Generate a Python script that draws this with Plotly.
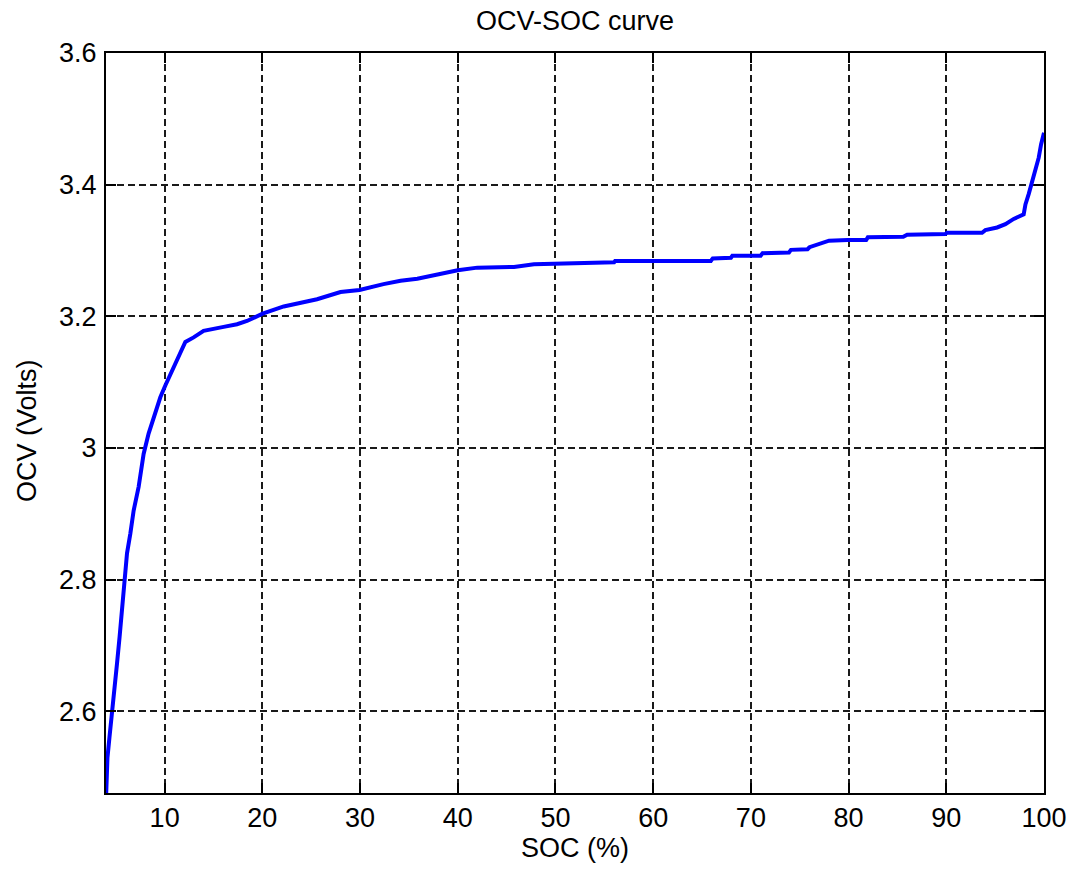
import plotly.graph_objects as go

soc = [4.02, 4.05, 4.15, 4.35, 4.62, 4.95, 5.13, 5.39, 5.64, 5.91, 6.15, 6.49, 6.83,
       7.34, 7.85, 8.36, 8.87, 9.56, 10.07, 10.76, 11.43, 12.12, 12.97, 13.99,
       16.04, 17.41, 18.43, 20.03, 22.19, 25.6, 28.0, 29.95, 32.4, 34.15, 35.86,
       37.9, 40.0, 42.0, 45.76, 47.8, 51.57, 56.0, 56.1, 65.9, 66.1, 67.96, 68.1,
       71.0, 71.2, 73.9, 74.1, 75.8, 76.0, 76.7, 77.4, 78.0, 79.9, 81.8, 81.97,
       85.6, 85.99, 89.9, 90.08, 93.66, 94.0, 95.2, 96.05, 96.9, 97.92, 98.1,
       98.44, 98.78, 99.1, 99.46, 99.7, 100.0]
ocv = [2.476, 2.50, 2.53, 2.56, 2.597, 2.635, 2.673, 2.713, 2.751, 2.799, 2.840, 2.870, 2.905,
       2.941, 2.991, 3.022, 3.047, 3.077, 3.095, 3.118, 3.138, 3.161, 3.168, 3.178,
       3.184, 3.188, 3.193, 3.204, 3.215, 3.226, 3.237, 3.240, 3.249, 3.254, 3.257,
       3.264, 3.270, 3.274, 3.275, 3.279, 3.280, 3.282, 3.284, 3.284, 3.288, 3.289, 3.292,
       3.292, 3.296, 3.297, 3.301, 3.302, 3.305, 3.308, 3.311, 3.315, 3.316, 3.316, 3.320,
       3.321, 3.324, 3.325, 3.327, 3.327, 3.331, 3.335, 3.340, 3.348, 3.355, 3.370,
       3.386, 3.403, 3.421, 3.441, 3.461, 3.479]

x_ticks = [10, 20, 30, 40, 50, 60, 70, 80, 90, 100]
x_ticklabels = ["10", "20", "30", "40", "50", "60", "70", "80", "90", "100"]
y_ticks = [2.6, 2.8, 3.0, 3.2, 3.4, 3.6]
y_ticklabels = ["2.6", "2.8", "3", "3.2", "3.4", "3.6"]

FONT = "Liberation Sans, Arial, sans-serif"

W, H = 1071, 871
ML, MR, MT, MB = 106, 27, 53, 78

fig = go.Figure()
fig.add_trace(go.Scatter(x=soc, y=ocv, mode="lines",
                         line=dict(color="#0000FF", width=4), showlegend=False))

axis_common = dict(
    showline=True, linecolor="#000000", linewidth=2, mirror="ticks",
    ticks="inside", ticklen=10, tickwidth=2, tickcolor="#000000",
    showgrid=True, gridcolor="#1a1a1a", gridwidth=2, griddash="7px,4px",
    zeroline=False, automargin=False,
    tickfont=dict(family=FONT, size=27, color="#000000"),
)

plot_w = W - ML - MR
plot_h = H - MT - MB

fig.update_layout(
    width=W, height=H,
    margin=dict(l=ML, r=MR, t=MT, b=MB),
    paper_bgcolor="white", plot_bgcolor="white",
    title=dict(text="OCV-SOC curve", x=0.5, xref="paper", y=1 - 21 / H,
               yref="container", yanchor="middle", xanchor="center",
               font=dict(family=FONT, size=27, color="#000000")),
    xaxis=dict(range=[4.0, 100], tickvals=x_ticks, ticktext=x_ticklabels,
               title=dict(text="SOC (%)", standoff=2,
                          font=dict(family=FONT, size=27, color="#000000")),
               **axis_common),
    yaxis=dict(range=[2.476, 3.6], tickvals=y_ticks, ticktext=y_ticklabels,
               ticklabelstandoff=2,
               **axis_common),
    annotations=[dict(text="OCV (Volts)", textangle=-90, showarrow=False,
                      xref="paper", yref="paper",
                      x=(27 - ML) / plot_w, y=(H - MB - 431) / plot_h,
                      xanchor="center", yanchor="middle",
                      font=dict(family=FONT, size=27, color="#000000"))],
)

fig.write_html(
    "out.html",
    config={"displayModeBar": False},
    post_script="document.body.style.margin='0px';"
                "document.documentElement.style.overflow='hidden';"
                "document.body.style.overflow='hidden';",
)
